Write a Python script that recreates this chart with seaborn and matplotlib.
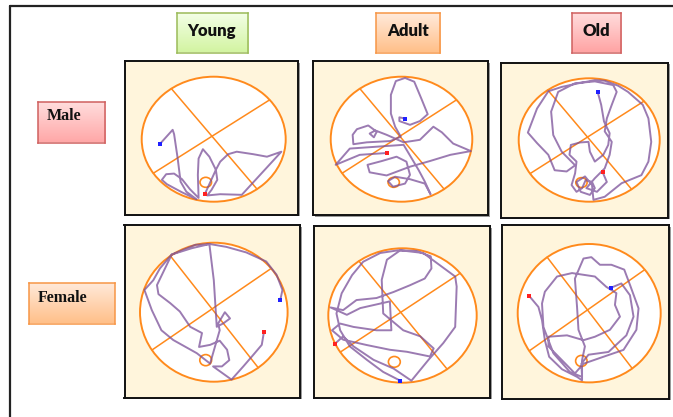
import numpy as np
import pandas as pd
import matplotlib
matplotlib.use("Agg")
import matplotlib.pyplot as plt
import matplotlib.colors as mcolors
from matplotlib.patches import Circle
from matplotlib.lines import Line2D
import seaborn as sns

sns.set_style("white")

# ---------------- data ----------------
ages = ["Young", "Adult", "Old"]
sexes = ["Male", "Female"]

# swim paths in arena units (pool radius = 1, centre = 0,0); first point = start, last = end
male_young_x = [-0.75, -0.57, -0.55, -0.50, -0.46, -0.38, -0.24, -0.44, -0.65, -0.72, -0.66, -0.55, -0.44,
                -0.33, -0.21, -0.22, -0.21, -0.15, -0.06, 0.03, 0.05, -0.03, -0.09, 0.09, 0.39, 0.94, 0.74,
                0.55, 0.32, 0.20, 0.09, 0.03, -0.12]
male_young_y = [-0.08, 0.15, 0.08, -0.31, -0.68, -0.84, -0.96, -0.85, -0.72, -0.65, -0.56, -0.55, -0.64,
                -0.80, -0.94, -0.57, -0.31, -0.16, -0.28, -0.49, -0.65, -0.81, -0.90, -0.88, -0.89, -0.20, -0.28,
                -0.24, -0.20, -0.24, -0.36, -0.49, -0.87]

male_adult_x = [0.05, -0.03, -0.03, 0.12, 0.26, 0.37, 0.28, 0.18, 0.05, -0.08, -0.15, -0.15, -0.09, -0.01,
                -0.16, -0.49, -0.68, -0.69, -0.63, -0.47, -0.35, -0.39, -0.45, -0.37, -0.21, 0.03, 0.26, 0.45,
                0.57, 0.73, 0.98, 0.69, 0.40, 0.12, -0.21, -0.45, -0.48, -0.28, -0.07, 0.07, 0.12, 0.05, -0.12,
                -0.19, -0.09, 0.12, 0.33, 0.41, 0.33, 0.24, 0.03, -0.73, -0.93, -0.59, -0.20]
male_adult_y = [0.33, 0.35, 0.29, 0.23, 0.29, 0.40, 0.65, 0.92, 0.98, 0.93, 0.71, 0.41, 0.20, 0.04,
                -0.03, -0.05, -0.08, 0.07, 0.16, 0.22, 0.12, 0.03, 0.09, 0.14, 0.07, -0.05, -0.01, 0.20,
                0.11, -0.07, -0.19, -0.25, -0.35, -0.44, -0.58, -0.53, -0.41, -0.35, -0.28, -0.36, -0.57, -0.71,
                -0.76, -0.67, -0.60, -0.64, -0.71, -0.88, -0.68, -0.49, -0.09, -0.15, -0.41, -0.25, -0.22]

male_old_x = [0.12, 0.17, 0.21, 0.29, 0.27, 0.20, 0.08, 0.01, -0.01, -0.13, -0.26, -0.28, -0.18, -0.20,
              -0.25, -0.18, -0.10, -0.05, 0.04, 0.08, 0.01, -0.12, -0.18, -0.06, 0.04, 0.06, 0.22, 0.46,
              0.74, 0.84, 0.88, 0.84, 0.76, 0.55, 0.41, 0.22, 0.08, -0.15, -0.39, -0.58, -0.74, -0.87,
              -0.74, -0.58, -0.49, -0.32, -0.20, -0.39, -0.51, -0.54, -0.44, -0.20, 0.08, 0.34, 0.39, 0.32,
              0.25, 0.22, 0.32, 0.29, 0.22, 0.08, -0.04, 0.11, 0.25, 0.19]
male_old_y = [0.78, 0.57, 0.30, 0.11, -0.08, -0.24, -0.35, -0.19, -0.03, -0.04, -0.08, -0.24, -0.35, -0.54,
              -0.73, -0.84, -0.78, -0.65, -0.68, -0.78, -0.89, -0.84, -0.68, -0.59, -0.73, -0.97, -0.92, -0.70,
              -0.57, -0.35, -0.03, 0.35, 0.57, 0.78, 0.88, 0.96, 0.97, 0.92, 0.86, 0.79, 0.51, 0.12,
              -0.05, -0.24, -0.49, -0.51, -0.41, -0.19, 0.08, 0.46, 0.78, 0.92, 0.95, 0.89, 0.78, 0.57,
              0.35, 0.14, -0.03, -0.24, -0.46, -0.62, -0.78, -0.84, -0.68, -0.52]

female_young_x = [0.90, 0.93, 0.85, 0.71, 0.44, 0.17, -0.05, -0.25, -0.57, -0.73, -0.82, -0.94, -0.84, -0.71,
                  -0.55, -0.23, -0.05, -0.01, 0.08, 0.06, 0.15, 0.22, 0.13, 0.04, 0.00, -0.06, -0.30, -0.57,
                  -0.77, -0.75, -0.59, -0.46, -0.32, -0.16, -0.20, -0.05, 0.08, 0.18, 0.21, 0.11, -0.01, 0.24,
                  0.40, 0.53, 0.65, 0.68]
female_young_y = [0.17, 0.32, 0.54, 0.73, 0.86, 0.94, 0.98, 0.97, 0.83, 0.63, 0.46, 0.32, 0.03, -0.26,
                  -0.40, -0.59, -0.74, -0.59, -0.26, -0.16, 0.00, -0.09, -0.16, -0.21, 0.46, 0.98, 0.92, 0.83,
                  0.39, 0.26, 0.13, 0.01, -0.21, -0.30, -0.50, -0.47, -0.41, -0.54, -0.69, -0.78, -0.78, -0.97,
                  -0.78, -0.62, -0.47, -0.28]

female_adult_x = [-0.03, -0.26, -0.48, -0.71, -0.84, -0.89, -0.82, -0.68, -0.53, -0.30, -0.06, 0.19, 0.38,
                  0.39, 0.30, 0.10, -0.12, -0.35, -0.62, -0.80, -0.97, -0.75, -0.57, -0.17, -0.15, -0.35,
                  -0.66, -0.84, -0.95, -0.80, -0.48, -0.17, 0.06, 0.37, 0.42, 0.24, 0.01, -0.26, -0.28, -0.21,
                  -0.03, 0.28, 0.71, 0.73, 0.71, 0.55, 0.35, 0.12, -0.12, -0.39, -0.66, -0.80, -0.91]
female_adult_y = [-0.97, -0.84, -0.66, -0.46, -0.22, 0.03, 0.33, 0.60, 0.80, 0.93, 0.97, 0.96, 0.88,
                  0.70, 0.55, 0.45, 0.35, 0.26, 0.23, 0.08, 0.12, 0.01, 0.11, 0.21, -0.22, -0.22,
                  -0.17, -0.12, -0.22, -0.36, -0.44, -0.51, -0.54, -0.61, -0.49, -0.31, -0.22, 0.03, 0.53, 0.83,
                  0.97, 0.93, 0.58, 0.43, -0.17, -0.41, -0.66, -0.97, -0.79, -0.66, -0.46, -0.31, -0.42]

female_old_x = [0.31, 0.45, 0.57, 0.62, 0.52, 0.27, -0.01, -0.11, -0.10, -0.27, -0.50, -0.64, -0.66, -0.62,
                -0.45, -0.24, 0.08, 0.24, 0.38, 0.36, 0.43, 0.29, 0.08, -0.08, -0.31, -0.57, -0.57, -0.38,
                -0.20, -0.08, 0.17, 0.48, 0.66, 0.69, 0.57, 0.49, 0.31, 0.15, 0.03, -0.08, -0.13, -0.20,
                -0.17, -0.15, -0.06, -0.10, -0.10, -0.17, -0.38, -0.56, -0.62, -0.66, -0.71, -0.84]
female_old_y = [0.37, 0.43, 0.26, -0.05, -0.32, -0.56, -0.60, -0.73, -0.92, -0.85, -0.58, -0.20, 0.14, 0.31,
                0.53, 0.58, 0.53, 0.38, 0.29, 0.12, -0.05, -0.24, -0.34, -0.39, -0.32, -0.34, -0.48, -0.68,
                -0.87, -0.73, -0.64, -0.53, -0.24, 0.07, 0.41, 0.63, 0.70, 0.70, 0.81, 0.79, 0.67, 0.50,
                0.09, -0.24, -0.48, -0.68, -0.97, -0.92, -0.81, -0.63, -0.39, -0.10, 0.09, 0.25]

platform_x, platform_y, platform_r = -0.11, -0.69, 0.08

paths = {
    ("Male", "Young"): (male_young_x, male_young_y),
    ("Male", "Adult"): (male_adult_x, male_adult_y),
    ("Male", "Old"): (male_old_x, male_old_y),
    ("Female", "Young"): (female_young_x, female_young_y),
    ("Female", "Adult"): (female_adult_x, female_adult_y),
    ("Female", "Old"): (female_old_x, female_old_y),
}

# ---------------- layout (figure pixels) ----------------
W, H = 673, 417
# panel box (left, right, top, bottom) and pool ellipse (cx, cy, rx, ry)
panel_layout = {
    ("Male", "Young"): ((124.5, 298, 61, 214.5), (213.7, 139.2, 72.0, 62.5)),
    ("Male", "Adult"): ((313, 488, 61, 215), (401.5, 139.2, 70.8, 62.5)),
    ("Male", "Old"): ((501, 668, 63, 217.5), (589.2, 140.0, 70.5, 61.7)),
    ("Female", "Young"): ((124.5, 300, 225, 397.5), (213.8, 312.2, 73.8, 69.5)),
    ("Female", "Adult"): ((313.5, 490, 226, 397.5), (402.5, 315.5, 74.2, 67.2)),
    ("Female", "Old"): ((501.5, 669, 225, 398.5), (589.2, 313.2, 71.5, 69.2)),
}

ORANGE = "#FF8A1C"
PATH_COL = "#7A4F98"
BG = "#FFF5DC"

fig = plt.figure(figsize=(W / 100, H / 100), dpi=100)
fig.patch.set_facecolor("white")


def frac_rect(L, R, T, B):
    return [L / W, 1 - B / H, (R - L) / W, (B - T) / H]


def pt_on_circle(deg):
    a = np.deg2rad(deg)
    return np.cos(a), np.sin(a)


for key, (box, pool) in panel_layout.items():
    L, R, T, B = box
    cx, cy, rx, ry = pool
    # soft grey shadow behind panel
    sh = fig.add_axes(frac_rect(L + 1.5, R + 1.5, T + 1.5, B + 1.5))
    sh.set_facecolor("#9A9A9A")
    sh.set_xticks([]); sh.set_yticks([])
    for s in sh.spines.values():
        s.set_visible(False)
    ax = fig.add_axes(frac_rect(L, R, T, B))
    ax.set_facecolor(BG)
    ax.add_patch(Circle((0, 0), 1, facecolor="white", edgecolor=ORANGE, lw=1.4, zorder=1))
    for a1, a2 in [(126, -53), (39, 213)]:
        p1, p2 = pt_on_circle(a1), pt_on_circle(a2)
        ax.plot([p1[0], p2[0]], [p1[1], p2[1]], color=ORANGE, lw=1.1, zorder=2)
    ax.add_patch(Circle((platform_x, platform_y), platform_r, facecolor="none",
                        edgecolor=ORANGE, lw=1.2, zorder=2))
    tx, ty = paths[key]
    df = pd.DataFrame({"x": tx, "y": ty})
    sns.lineplot(data=df, x="x", y="y", sort=False, estimator=None, color=PATH_COL,
                 lw=1.4, alpha=0.75, ax=ax, zorder=3)
    sns.scatterplot(x=[tx[0]], y=[ty[0]], color="#2020FF", marker="s", s=6, linewidth=0, ax=ax, zorder=4)
    sns.scatterplot(x=[tx[-1]], y=[ty[-1]], color="#FF2020", marker="s", s=6, linewidth=0, ax=ax, zorder=4)
    ax.set_xlim((L - cx) / rx, (R - cx) / rx)
    ax.set_ylim((cy - B) / ry, (cy - T) / ry)
    ax.set_xticks([])
    ax.set_yticks([])
    ax.set_xlabel("")
    ax.set_ylabel("")
    for s in ax.spines.values():
        s.set_visible(True)
        s.set_color("#111111")
        s.set_linewidth(1.4)


def label_box(box, top, bottom, edge, text, text_x, text_y, ha, **font):
    L, R, T, B = box
    bax = fig.add_axes(frac_rect(L, R, T, B))
    c1 = np.array(mcolors.to_rgb(top))
    c2 = np.array(mcolors.to_rgb(bottom))
    t = np.linspace(0, 1, 64)[:, None, None]
    grad = c1 * (1 - t) + c2 * t
    bax.imshow(grad, aspect="auto", extent=(0, 1, 0, 1), origin="upper")
    bax.set_xlim(0, 1)
    bax.set_ylim(0, 1)
    bax.set_xticks([])
    bax.set_yticks([])
    for s in bax.spines.values():
        s.set_color(edge)
        s.set_linewidth(1.1)
    fig.text(text_x / W, 1 - text_y / H, text, ha=ha, va="center", color="#111111", **font)


hdr_font = dict(family=["Lato", "DejaVu Sans"], fontweight="heavy", fontsize=12)
side_font = dict(family=["Liberation Serif", "DejaVu Serif"], fontweight="bold", fontsize=11.5)

label_box((176.5, 247.5, 13, 52.5), "#F4FFE8", "#D3F4A2", "#9BBB59", "Young", 212, 31, "center", **hdr_font)
label_box((375.5, 440, 13, 52.5), "#FFEBDD", "#FFC08A", "#F79646", "Adult", 407.7, 31, "center", **hdr_font)
label_box((571.5, 621, 13, 52.5), "#FFDEDE", "#FFA4A4", "#D0605F", "Old", 596.2, 31, "center", **hdr_font)
label_box((37.5, 105, 101.5, 142.5), "#FFDEDE", "#FFA8A8", "#D0605F", "Male", 46.5, 116, "left", **side_font)
label_box((29.5, 115, 282.5, 323.5), "#FFEBDD", "#FFC08A", "#F79646", "Female", 38, 297.5, "left", **side_font)

# outer frame (top and left edges)
fig.add_artist(Line2D([10 / W, 10 / W], [1 - 6 / H, 0], transform=fig.transFigure, color="#222222", lw=1.6))
fig.add_artist(Line2D([10 / W, 1], [1 - 6 / H, 1 - 6 / H], transform=fig.transFigure, color="#222222", lw=1.6))

fig.savefig("out.png", dpi=100, facecolor="white")
